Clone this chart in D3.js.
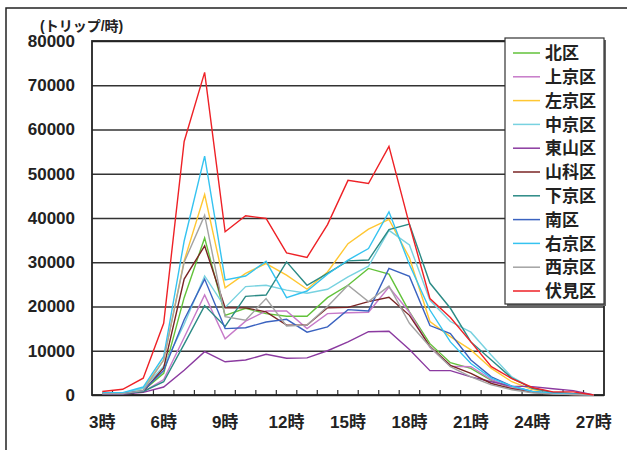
<!DOCTYPE html>
<html>
<head>
<meta charset="utf-8">
<script src="https://d3js.org/d3.v7.min.js"></script>
<style>
    body { margin: 0; background: #fff; }
    text { font-family: "Liberation Sans", Arial, "Noto Sans CJK JP", sans-serif; font-weight: bold; }
</style>
</head>
<body>
<div id="chart"></div>
<script>
    // Data (trips per hour, 3時 .. 27時)
    const hours = d3.range(3, 28);
    const tickHours = [3, 6, 9, 12, 15, 18, 21, 24, 27];
    const yTicks = [0, 10000, 20000, 30000, 40000, 50000, 60000, 70000, 80000];

    const names = ['北区', '上京区', '左京区', '中京区', '東山区', '山科区', '下京区', '南区', '右京区', '西京区', '伏見区'];
    const colors = ['#62c23a', '#c77ac9', '#ffc732', '#78d2e0', '#8b3aa0', '#7a2424', '#2b8a85', '#3b63c0', '#35c3f0', '#a3a3a3', '#ee2126'];

    const kita      = [400, 300, 1000, 4900, 22000, 35500, 18000, 19600, 18400, 17800, 17800, 22000, 24800, 28600, 27300, 18800, 11600, 7300, 6000, 3300, 1600, 700, 300, 100, 0];
    const kamigyo   = [300, 300, 700, 3500, 13000, 22600, 12700, 16700, 19000, 19000, 15000, 18400, 18600, 18700, 24400, 18700, 10800, 6500, 6400, 3500, 1600, 700, 300, 100, 0];
    const sakyo     = [500, 400, 1500, 7900, 30300, 45300, 24200, 27500, 29700, 27100, 23900, 27800, 34200, 37500, 39700, 31000, 16600, 13200, 10200, 6000, 3000, 1200, 600, 300, 0];
    const nakagyo   = [400, 400, 1500, 6500, 16000, 26900, 19800, 24500, 24800, 23700, 23000, 23900, 26700, 29100, 37200, 33900, 21400, 16600, 14200, 9000, 4100, 1500, 600, 300, 0];
    const higashiyama = [200, 200, 600, 1800, 5600, 9800, 7500, 7900, 9200, 8300, 8400, 10000, 12000, 14300, 14400, 10300, 5500, 5500, 4100, 3000, 2000, 1900, 1400, 1000, 0];
    const yamashina = [300, 300, 800, 6100, 26200, 33700, 19700, 19700, 18800, 15800, 15800, 19700, 19800, 21100, 22100, 18000, 11000, 6700, 4900, 2600, 1400, 600, 300, 100, 0];
    const shimogyo  = [300, 300, 800, 3000, 11500, 20200, 15500, 22300, 22600, 30100, 24800, 27500, 30300, 30500, 37400, 38600, 25300, 19600, 12000, 7900, 3800, 1500, 600, 300, 0];
    const minami    = [300, 300, 1000, 5500, 17000, 26200, 15000, 15200, 16500, 17100, 14200, 15400, 19300, 19000, 28600, 26800, 15700, 13900, 7900, 4100, 2000, 800, 400, 200, 0];
    const ukyo      = [500, 500, 1800, 8700, 34800, 54000, 26000, 26900, 30200, 22000, 23500, 27300, 30500, 33100, 41400, 29500, 19200, 12000, 7100, 3800, 2000, 800, 400, 200, 0];
    const nishikyo  = [300, 300, 1000, 7900, 30000, 40600, 17700, 16900, 21800, 15600, 15800, 20000, 24800, 21100, 24600, 16200, 10900, 6400, 4100, 2300, 1200, 500, 200, 100, 0];
    const fushimi   = [800, 1300, 3800, 16200, 57300, 72900, 36900, 40500, 39900, 32100, 31100, 38500, 48500, 47800, 56200, 38500, 21800, 17500, 12000, 6400, 3700, 1700, 700, 700, 0];

    const values = [kita, kamigyo, sakyo, nakagyo, higashiyama, yamashina, shimogyo, minami, ukyo, nishikyo, fushimi];

    const W = 627, H = 450;
    const margin = { top: 41, right: 23, bottom: 55, left: 92 };
    const width = W - margin.left - margin.right;
    const height = H - margin.top - margin.bottom;

    const svg = d3.select("#chart").append("svg")
        .attr("width", W)
        .attr("height", H);

    // outer frame (only top/left edges visible)
    svg.append("rect")
        .attr("x", 6).attr("y", 8)
        .attr("width", W).attr("height", H)
        .attr("fill", "none").attr("stroke", "#222").attr("stroke-width", 1.5);

    const g = svg.append("g")
        .attr("transform", "translate(" + margin.left + "," + margin.top + ")");

    const x = d3.scaleBand().domain(hours).range([0, width]).padding(0);
    const y = d3.scaleLinear().domain([0, 80000]).range([height, 0]);
    const cx = h => x(h) + x.bandwidth() / 2;

    // gridlines
    g.append("g")
        .call(d3.axisLeft(y).tickValues(yTicks).tickSize(-width).tickFormat(""))
        .call(s => s.select(".domain").remove())
        .selectAll("line")
        .attr("stroke", "#333").attr("stroke-width", 1.5);

    // y labels
    g.append("g")
        .call(d3.axisLeft(y).tickValues(yTicks).tickSize(0).tickPadding(17).tickFormat(d3.format("d")))
        .call(s => s.select(".domain").remove())
        .selectAll("text")
        .attr("font-size", 17).attr("fill", "#222");

    // x tick marks at category boundaries
    g.append("g").selectAll("line")
        .data(hours.slice(1))
        .enter().append("line")
        .attr("x1", d => x(d)).attr("x2", d => x(d))
        .attr("y1", height).attr("y2", height - 5)
        .attr("stroke", "#333").attr("stroke-width", 1.2);

    // x labels
    g.append("g")
        .attr("transform", "translate(0," + height + ")")
        .call(d3.axisBottom(x).tickValues(tickHours).tickSize(0).tickPadding(21).tickFormat(d => d + "時"))
        .call(s => s.select(".domain").remove())
        .selectAll("text")
        .attr("font-size", 17).attr("fill", "#222");

    // plot border
    g.append("rect")
        .attr("width", width).attr("height", height)
        .attr("fill", "none").attr("stroke", "#222").attr("stroke-width", 1.8);

    // lines
    const line = d3.line()
        .x((d, i) => cx(hours[i]))
        .y(d => y(d));

    g.selectAll(".series")
        .data(values)
        .enter().append("path")
        .attr("class", "series")
        .attr("d", line)
        .attr("fill", "none")
        .attr("stroke", (d, i) => colors[i])
        .attr("stroke-width", 1.4);

    // unit label
    svg.append("text")
        .attr("x", 40).attr("y", 31)
        .attr("font-size", 14).attr("fill", "#222")
        .text("(トリップ/時)");

    // legend
    const lg = svg.append("g").attr("transform", "translate(505,38)");
    lg.append("rect")
        .attr("x", 2).attr("y", 2)
        .attr("width", 99).attr("height", 266)
        .attr("fill", "#666");
    lg.append("rect")
        .attr("width", 99).attr("height", 266)
        .attr("fill", "#fff").attr("stroke", "#333").attr("stroke-width", 1.2);

    const items = lg.selectAll(".item")
        .data(names)
        .enter().append("g")
        .attr("transform", (d, i) => "translate(0," + (15 + i * 23.8) + ")");
    items.append("line")
        .attr("x1", 8).attr("x2", 35)
        .attr("stroke", (d, i) => colors[i]).attr("stroke-width", 1.5);
    items.append("text")
        .attr("x", 40).attr("dy", "0.36em")
        .attr("font-size", 17).attr("fill", "#222")
        .attr("font-family", "'Noto Sans CJK JP', sans-serif")
        .text(d => d);
</script>
</body>
</html>
